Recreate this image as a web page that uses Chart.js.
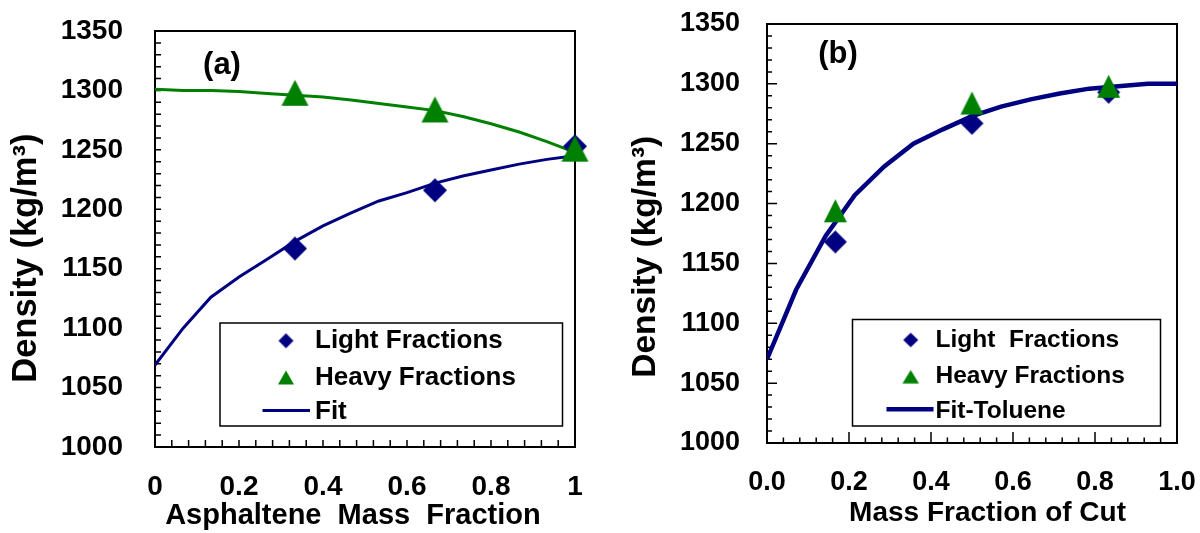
<!DOCTYPE html>
<html><head><meta charset="utf-8">
<script src="https://cdn.jsdelivr.net/npm/chart.js@4.4.1/dist/chart.umd.min.js"></script>
<style>
html,body{margin:0;padding:0;background:#fff;}
#wrap{display:flex;width:1200px;height:533px;}
canvas{display:block;}
</style></head><body>
<div id="wrap"><canvas id="ca" width="600" height="533"></canvas><canvas id="cb" width="600" height="533"></canvas></div>
<script>
// ---------- Panel (a) data ----------
const aPointsX = [1/3, 2/3, 1];
const aLight = [1167, 1216, 1253];
const aHeavy = [1298, 1284, 1251];
const aFitX = [0, 0.067, 0.133, 0.2, 0.267, 0.333, 0.4, 0.467, 0.533, 0.6, 0.667, 0.733, 0.8, 0.867, 0.933, 1];
const aFitLight = [1069, 1100, 1126, 1143, 1158, 1173, 1186, 1197, 1207, 1214, 1222, 1228, 1233, 1238, 1242, 1245];
const aFitHeavy = [1301, 1300, 1300, 1299, 1297.5, 1296, 1294.5, 1292, 1289, 1286, 1283, 1278, 1272, 1265, 1257, 1248];
const aXTickLabels = ['0', '0.2', '0.4', '0.6', '0.8', '1'];
// ---------- Panel (b) data ----------
const bPointsX = [1/6, 0.5, 5/6];
const bLight = [1168, 1267, 1293];
const bHeavy = [1194, 1284, 1298];
const bFitX = [0, 0.071, 0.143, 0.214, 0.286, 0.357, 0.429, 0.5, 0.571, 0.643, 0.714, 0.786, 0.857, 0.929, 1];
const bFit = [1070, 1128, 1173, 1207, 1231, 1250, 1262, 1273, 1281, 1287, 1292, 1296, 1298, 1300, 1300];
const bXTickLabels = ['0.0', '0.2', '0.4', '0.6', '0.8', '1.0'];
// ---------- shared ----------
const yTickLabels = ['1000', '1050', '1100', '1150', '1200', '1250', '1300', '1350'];

const FONT = "'Liberation Sans', Arial, sans-serif";
Chart.defaults.font.family = FONT;
Chart.defaults.font.weight = 'bold';
Chart.defaults.color = '#000';
const NAVY = '#000080', GREEN = '#008000';

function makeMarker(shape, w, h, color) {
  const c = document.createElement('canvas');
  c.width = Math.ceil(w) + 2; c.height = Math.ceil(h) + 2;
  const g = c.getContext('2d');
  const cx = c.width / 2, cy = c.height / 2;
  g.fillStyle = color; g.beginPath();
  if (shape === 'dia') {
    g.moveTo(cx, cy - h / 2); g.lineTo(cx + w / 2, cy); g.lineTo(cx, cy + h / 2); g.lineTo(cx - w / 2, cy);
  } else {
    g.moveTo(cx, cy - h / 2); g.lineTo(cx + w / 2, cy + h / 2); g.lineTo(cx - w / 2, cy + h / 2);
  }
  g.closePath(); g.fill();
  return c;
}
function pts(xs, ys) { return xs.map((x, i) => ({x: x, y: ys[i]})); }
function noPad(s) { s.paddingTop = 0; s.paddingBottom = 0; s.paddingLeft = 0; s.paddingRight = 0; }

const decoPlugin = {
  id: 'deco',
  beforeDatasetsDraw(chart, args, o) {
    const ctx = chart.ctx, a = chart.chartArea, x = chart.scales.x, y = chart.scales.y;
    ctx.save();
    ctx.strokeStyle = '#000';
    ctx.lineWidth = 1.5;
    ctx.beginPath();
    const ny = Math.round((y.max - y.min) / o.yMinor);
    for (let i = 0; i <= ny; i++) {
      const v = y.min + i * o.yMinor;
      const p = y.getPixelForValue(v);
      const major = (i * o.yMinor) % o.yMajor === 0;
      const len = major ? o.yMajorLen : o.yMinorLen;
      ctx.moveTo(a.left, p); ctx.lineTo(a.left + len, p);
    }
    const nx = Math.round((x.max - x.min) / o.xMinor);
    const per = Math.round(o.xMajor / o.xMinor);
    for (let i = 0; i <= nx; i++) {
      const v = x.min + i * o.xMinor;
      const p = x.getPixelForValue(v);
      const len = (i % per === 0) ? o.xMajorLen : o.xMinorLen;
      ctx.moveTo(p, a.bottom); ctx.lineTo(p, a.bottom - len);
    }
    ctx.stroke();
    ctx.lineWidth = o.frameWidth;
    ctx.strokeRect(a.left, a.top, a.right - a.left, a.bottom - a.top);
    ctx.restore();
  },
  afterDatasetsDraw(chart, args, o) {
    const ctx = chart.ctx;
    ctx.save();
    ctx.fillStyle = '#000';
    ctx.font = 'bold ' + o.panel.size + 'px ' + FONT;
    ctx.textAlign = 'center'; ctx.textBaseline = 'middle';
    ctx.fillText(o.panel.text, o.panel.x, o.panel.y);
    const L = o.legend;
    ctx.fillStyle = '#fff';
    ctx.fillRect(L.box[0], L.box[1], L.box[2] - L.box[0], L.box[3] - L.box[1]);
    ctx.strokeStyle = '#000'; ctx.lineWidth = 1.5;
    ctx.strokeRect(L.box[0], L.box[1], L.box[2] - L.box[0], L.box[3] - L.box[1]);
    ctx.font = 'bold ' + L.size + 'px ' + FONT;
    ctx.textAlign = 'left'; ctx.textBaseline = 'middle';
    L.rows.forEach(r => {
      const ds = chart.data.datasets[r.ds];
      if (ds.showLine) {
        ctx.strokeStyle = ds.borderColor; ctx.lineWidth = ds.borderWidth;
        ctx.beginPath(); ctx.moveTo(L.lineX1, r.lineY); ctx.lineTo(L.lineX2, r.lineY); ctx.stroke();
      } else {
        const m = ds.legendMarker;
        ctx.drawImage(m, L.markerX - m.width / 2, r.y - m.height / 2);
      }
      ctx.fillStyle = '#000';
      ctx.fillText(ds.label, L.textX, r.y);
    });
    ctx.restore();
  }
};

function makeChart(id, p) {
  return new Chart(document.getElementById(id), {
    type: 'scatter',
    data: { datasets: p.datasets },
    options: {
      responsive: false, animation: false, devicePixelRatio: 1, events: [],
      layout: { padding: p.padding },
      elements: { line: { tension: 0 } },
      scales: {
        x: {
          type: 'linear', position: 'bottom', min: 0, max: 1,
          grid: { display: false, drawTicks: false }, border: { display: false },
          ticks: { stepSize: 0.2, autoSkip: false, maxRotation: 0, padding: p.xTickPad,
                   font: { size: p.xTickSize, weight: 'bold' }, color: '#000',
                   callback: (v, i) => p.xLabels[i] },
          title: { display: true, text: p.xTitle, color: '#000',
                   font: { size: p.xTitleSize, weight: 'bold' }, padding: { top: 0, bottom: p.xTitlePad } },
          afterFit: s => { s.height = p.xHeight; noPad(s); }
        },
        y: {
          type: 'linear', position: 'left', min: 1000, max: 1350,
          grid: { display: false, drawTicks: false }, border: { display: false },
          ticks: { stepSize: 50, autoSkip: false, padding: p.yTickPad,
                   font: { size: p.yTickSize, weight: 'bold' }, color: '#000',
                   callback: (v, i) => yTickLabels[i] },
          title: { display: true, text: 'Density (kg/m\u00B3)' + p.yTitleTrail, color: '#000',
                   font: { size: p.yTitleSize, weight: 'bold' }, padding: { top: p.yTitlePad, bottom: 0 } },
          afterFit: s => { s.width = p.yWidth; noPad(s); }
        }
      },
      plugins: { legend: { display: false }, tooltip: { enabled: false }, deco: p.deco }
    },
    plugins: [decoPlugin]
  });
}

// Panel (a)
makeChart('ca', {
  padding: { left: 0, right: 25, top: 31, bottom: 0 },
  xHeight: 86, yWidth: 155,
  xTickPad: 23.5, xTickSize: 28, xLabels: aXTickLabels,
  xTitle: 'Asphaltene  Mass  Fraction   ', xTitleSize: 29, xTitlePad: 0,
  yTickPad: 32, yTickSize: 28, yTitleSize: 34.5, yTitlePad: 6, yTitleTrail: '    ',
  datasets: [
    { label: 'Heavy Fractions', data: pts(aPointsX, aHeavy), pointStyle: makeMarker('tri', 27, 26, GREEN),
      pointRadius: 13, showLine: false, order: 0, clip: false, legendMarker: makeMarker('tri', 16, 14, GREEN) },
    { label: 'Light Fractions', data: pts(aPointsX, aLight), pointStyle: makeMarker('dia', 24, 24, NAVY),
      pointRadius: 12, showLine: false, order: 1, clip: false, legendMarker: makeMarker('dia', 15, 15, NAVY) },
    { label: 'Fit', data: pts(aFitX, aFitLight), showLine: true, borderColor: NAVY, borderWidth: 3,
      pointRadius: 0, order: 2 },
    { label: '', data: pts(aFitX, aFitHeavy), showLine: true, borderColor: GREEN, borderWidth: 3,
      pointRadius: 0, order: 2 }
  ],
  deco: {
    frameWidth: 2, yMinor: 10, yMajor: 50, yMinorLen: 6, yMajorLen: 6,
    xMinor: 0.04, xMajor: 0.2, xMinorLen: 7, xMajorLen: 7,
    panel: { text: '(a)', x: 222, y: 65.5, size: 31 },
    legend: { box: [220, 323, 562.5, 426], size: 26, markerX: 286, textX: 315,
              lineX1: 262.5, lineX2: 310,
              rows: [ { ds: 1, y: 340.8 }, { ds: 0, y: 377.5 }, { ds: 2, y: 411.5, lineY: 410.5 } ] }
  }
});

// Panel (b)
makeChart('cb', {
  padding: { left: 0, right: 23, top: 24, bottom: 0 },
  xHeight: 90, yWidth: 167,
  xTickPad: 23.5, xTickSize: 27, xLabels: bXTickLabels,
  xTitle: '    Mass Fraction of Cut', xTitleSize: 28, xTitlePad: 2.5,
  yTickPad: 27, yTickSize: 27, yTitleSize: 33.5, yTitlePad: 25.5, yTitleTrail: '     ',
  datasets: [
    { label: 'Heavy Fractions', data: pts(bPointsX, bHeavy), pointStyle: makeMarker('tri', 23, 23, GREEN),
      pointRadius: 12, showLine: false, order: 0, clip: false, legendMarker: makeMarker('tri', 16.5, 13.5, GREEN) },
    { label: 'Light  Fractions', data: pts(bPointsX, bLight), pointStyle: makeMarker('dia', 23, 23, NAVY),
      pointRadius: 12, showLine: false, order: 1, clip: false, legendMarker: makeMarker('dia', 15, 14.5, NAVY) },
    { label: 'Fit-Toluene', data: pts(bFitX, bFit), showLine: true, borderColor: NAVY, borderWidth: 4.5,
      pointRadius: 0, order: 2 }
  ],
  deco: {
    frameWidth: 2, yMinor: 10, yMajor: 50, yMinorLen: 5, yMajorLen: 10,
    xMinor: 0.04, xMajor: 0.2, xMinorLen: 5.5, xMajorLen: 11,
    panel: { text: '(b)', x: 238, y: 54, size: 31 },
    legend: { box: [252.5, 319.5, 560.5, 426], size: 24.5, markerX: 310.7, textX: 335.5,
              lineX1: 286.5, lineX2: 333.5,
              rows: [ { ds: 1, y: 340 }, { ds: 0, y: 376.7 }, { ds: 2, y: 411.7, lineY: 409.3 } ] }
  }
});
</script>
</body></html>
